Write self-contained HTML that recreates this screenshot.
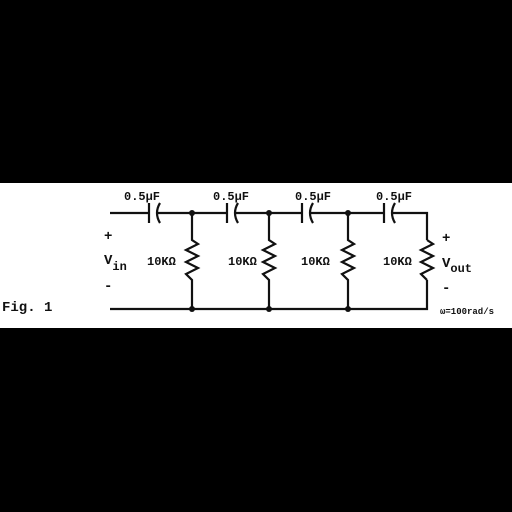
<!DOCTYPE html>
<html><head><style>
body{margin:0;width:512px;height:512px;background:#000;overflow:hidden}
svg{display:block}
text{font-family:"Liberation Mono",monospace;font-weight:bold;fill:#111}
</style></head><body>
<svg width="512" height="512">
<rect x="0" y="183" width="512" height="145" fill="#fff"/>
<g stroke="#111" stroke-width="2.2" fill="none">
<path d="M110 213H149M157 213H227M235 213H302M310 213H384M392 213H427V240"/>
<path d="M110 309H427V280"/>
<path d="M149 203V223M227 203V223M302 203V223M384 203V223"/>
<path d="M160 203Q154 213 160 223M238 203Q232 213 238 223M313 203Q307 213 313 223M395 203Q389 213 395 223"/>
<path d="M192 213V240L198 244L186 250L198 256L186 262L198 268L186 274L192 280V309"/>
<path d="M269 213V240L275 244L263 250L275 256L263 262L275 268L263 274L269 280V309"/>
<path d="M348 213V240L354 244L342 250L354 256L342 262L354 268L342 274L348 280V309"/>
<path d="M427 240L433 244L421 250L433 256L421 262L433 268L421 274L427 280"/>
</g>
<g fill="#111">
<circle cx="192" cy="213" r="3"/><circle cx="269" cy="213" r="3"/><circle cx="348" cy="213" r="3"/>
<circle cx="192" cy="309" r="3"/><circle cx="269" cy="309" r="3"/><circle cx="348" cy="309" r="3"/>
</g>
<g font-size="12">
<text x="124" y="200">0.5μF</text>
<text x="213" y="200">0.5μF</text>
<text x="295" y="200">0.5μF</text>
<text x="376" y="200">0.5μF</text>
<text x="147" y="265">10KΩ</text>
<text x="228" y="265">10KΩ</text>
<text x="301" y="265">10KΩ</text>
<text x="383" y="265">10KΩ</text>
</g>
<g font-size="14">
<text x="104" y="240">+</text>
<text x="104" y="264">V<tspan font-size="12" dy="6">in</tspan></text>
<text x="104" y="290">-</text>
<text x="442" y="242">+</text>
<text x="442" y="267">V<tspan font-size="12" dy="5">out</tspan></text>
<text x="442" y="292">-</text>
<text x="2" y="311">Fig. 1</text>
</g>
<text x="440" y="314" font-size="9">ω=100rad/s</text>
</svg>
</body></html>
